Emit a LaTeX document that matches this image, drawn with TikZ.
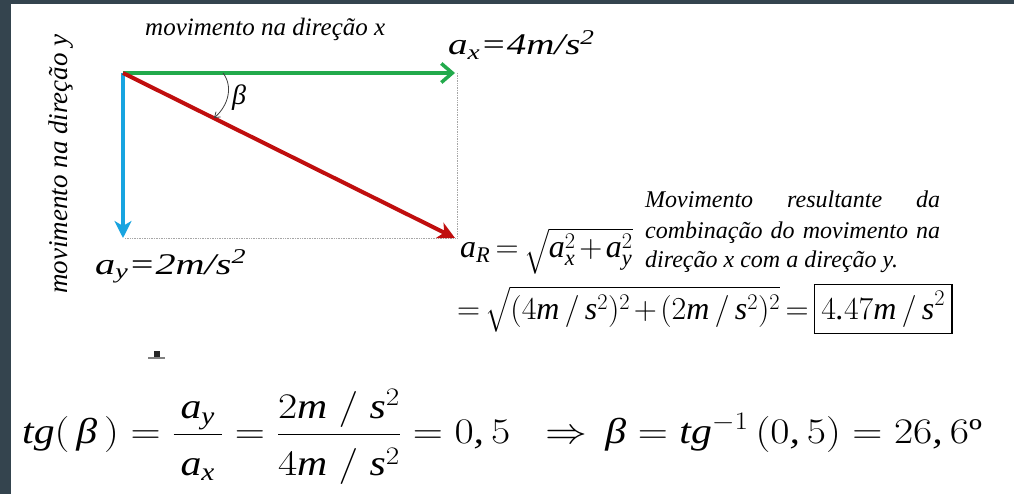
\RequirePackage{fix-cm}
\documentclass[tikz,border=0pt]{standalone}
\usepackage{amsmath}
\usepackage{graphicx}
\usepackage{fontspec}
\setmainfont{Liberation Serif}
\usetikzlibrary{arrows.meta,positioning,calc}

% math letters and digits in the text font (Times look)
\DeclareSymbolFont{letters}{TU}{\rmdefault}{m}{it}
\DeclareSymbolFont{operators}{TU}{\rmdefault}{m}{n}
\mathcode`\,="612C
\mathcode`\.="012E
\mathcode`\/="012F
\newcommand{\bet}{\textit{β}}
\newcommand{\hstretch}[2]{\scalebox{#1}[1]{#2}}
\newcommand{\tightmath}{\thickmuskip=3mu\medmuskip=2mu}

\definecolor{framegray}{RGB}{52,68,78}
\definecolor{vgreen}{RGB}{34,170,76}
\definecolor{vblue}{RGB}{24,164,224}
\definecolor{vred}{RGB}{192,14,14}

\begin{document}
\begin{tikzpicture}[
    x=1pt, y=-1pt,
    >=Latex,
    vec/.style={line width=4pt},
    vecx/.style={vec, draw=vgreen, -{Straight Barb[length=11pt,width=19pt,line width=3.5pt]}},
    vecy/.style={vec, draw=vblue, -{Stealth[length=17pt,width=17pt,inset=5pt]}},
    vecR/.style={vec, draw=vred, -{Stealth[length=17pt,width=17pt,inset=5pt]}},
    guide/.style={densely dotted, draw=gray!70, line width=0.7pt},
    anglearc/.style={draw=black!75, line width=0.8pt, -{Straight Barb[length=5pt,width=7pt]}},
    lbl/.style={inner sep=0pt, anchor=base west},
    dirtext/.style={font=\fontsize{25}{30}\selectfont\itshape},
    vectext/.style={lbl, font=\fontsize{30}{36}\selectfont\itshape},
    restext/.style={lbl, font=\fontsize{24}{30}\selectfont\itshape},
    eqtext/.style={lbl, font=\fontsize{32}{38}\selectfont\tightmath},
    bigeq/.style={lbl, font=\fontsize{36}{44}\selectfont}
]
\useasboundingbox (0,0) rectangle (1014,494);
\fill[white] (0,0) rectangle (1014,494);

% --- FRAME ---
\fill[framegray] (0,0) rectangle (11,494);
\fill[framegray] (0,0) rectangle (1014,4);

% --- VECTORS ---
\coordinate (O)  at (123,73);
\coordinate (ax) at (455,73);
\coordinate (ay) at (123,238);
\coordinate (aR) at (455,238);

\draw[guide] ([xshift=2pt]ax) -- ([xshift=2pt]aR);
\draw[guide] ([xshift=2pt]ay) -- (aR);

\draw[vecy] (O) -- (ay);
\draw[vecx] (O) -- (ax);
\draw[vecR] (O) -- (aR);

% angle beta
\coordinate (b1) at (223,73);
\coordinate (b2) at (214,118);
\draw[anglearc] (b1) .. controls (233,86) and (229,105) .. (b2);
\node[lbl, font=\fontsize{28}{32}\selectfont\itshape] (beta) at (232,105) {β};

% --- LABELS ---
\node[lbl, dirtext] (dirx) at (145,36) {movimento na direção x};
\node[dirtext, font=\fontsize{27}{30}\selectfont\itshape, rotate=90, anchor=base, inner sep=0pt] (diry) at (67,164) {movimento na direção y};

\node[vectext] (axlbl) at (448,55) {\hstretch{1.3}{a\textsubscript{x}=4m/s\textsuperscript{2}}};
\node[vectext] (aylbl) at (95,274) {\hstretch{1.34}{a\textsubscript{y}=2m/s\textsuperscript{2}}};

% resultant
\node[restext] (res1) at (645,208) {\makebox[295pt][s]{Movimento resultante da}};
\node[restext] (res2) at (645,239) {\makebox[295pt][s]{combinação do movimento na}};
\node[restext] (res3) at (645,268) {direção x com a direção y.};

\node[eqtext] (eqR) at (460,258) {$a_R=\sqrt{a_x^2+a_y^2}$};
\node[eqtext] (eqnum) at (457,319)
{$=\sqrt{(4m\,/\,s^2)^2+(2m\,/\,s^2)^2}=
 {\setlength{\fboxrule}{1.5pt}\setlength{\fboxsep}{6pt}\boxed{4.47m\,/\,s^2}}$};

% stray mark
\fill[black!85] (154,351) rectangle (160,357);
\fill[black!50] (148,357) rectangle (165,359);

% tangent
\node[bigeq] (eqtg) at (22,443)
{\hstretch{1.16}{$tg(\,\bet\,)=\dfrac{\,a_y\,}{\rule{0pt}{1.05em}\,a_x\,}=\dfrac{2m\;/\;s^2}{\rule{0pt}{1.05em}4m\;/\;s^2}=0,5\;\;\Rightarrow\,\bet=tg^{-1}\,(0,5)=26,6\textup{º}$}};

\end{tikzpicture}
\end{document}
